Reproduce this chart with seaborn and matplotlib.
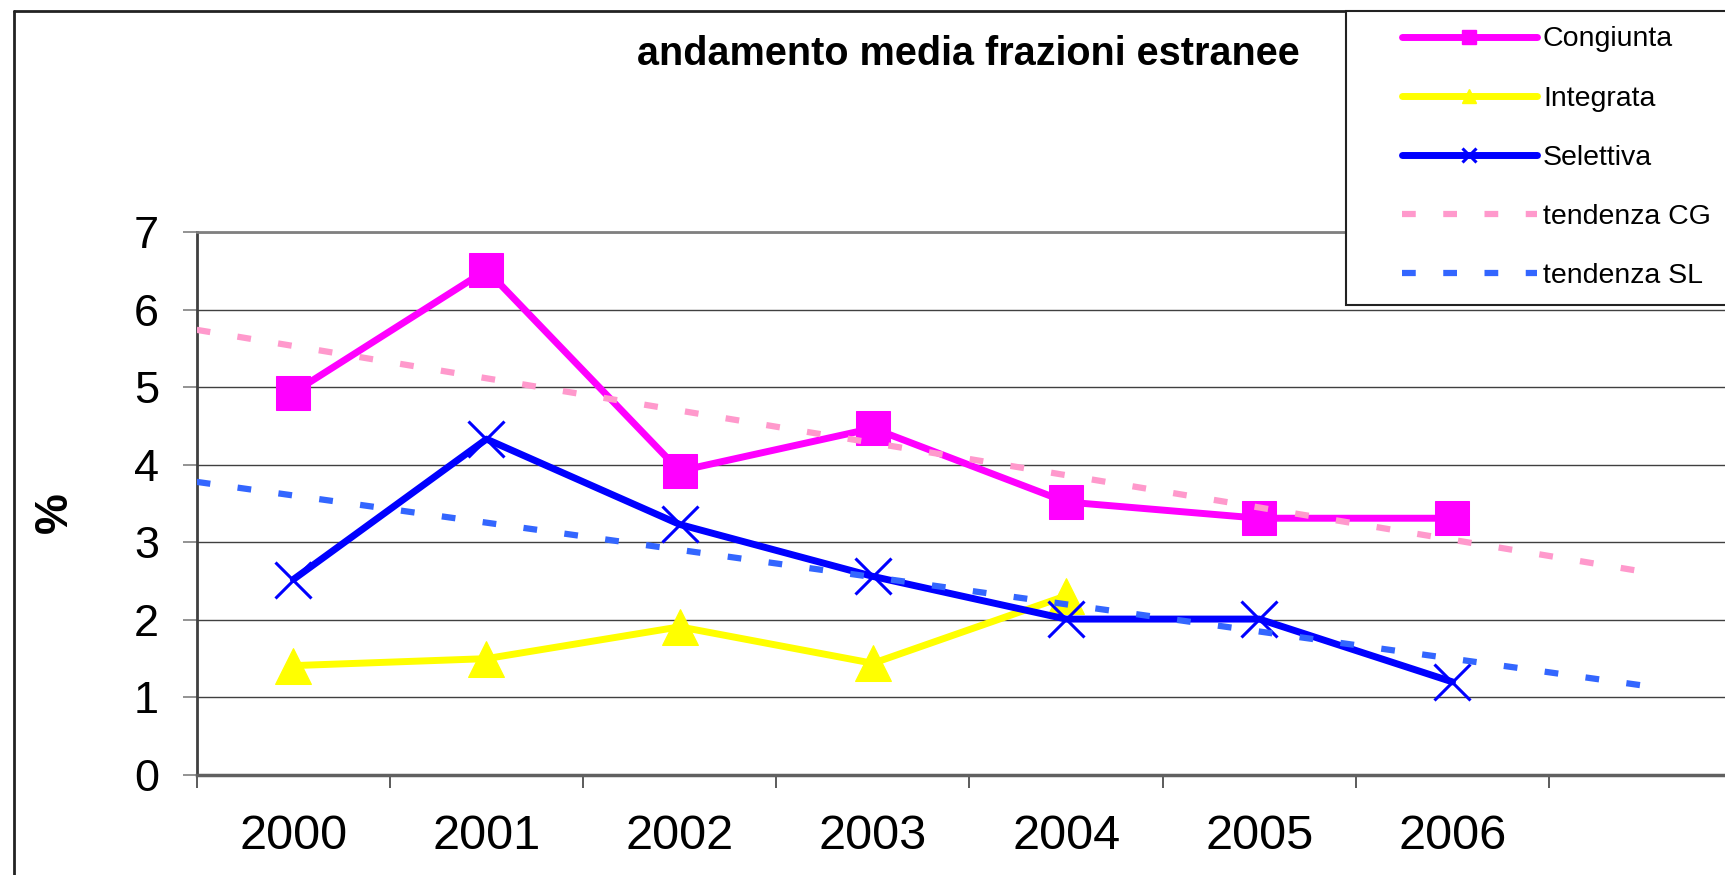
import numpy as np
import pandas as pd
import matplotlib
matplotlib.use("Agg")
import matplotlib.pyplot as plt
import seaborn as sns
from matplotlib.lines import Line2D
from matplotlib.patches import Rectangle

# ---- data ----
years = ['2000', '2001', '2002', '2003', '2004', '2005', '2006']
congiunta = [4.93, 6.51, 3.92, 4.47, 3.52, 3.31, 3.31]
integrata = [1.41, 1.50, 1.91, 1.44, 2.31]
selettiva = [2.52, 4.33, 3.23, 2.56, 2.01, 2.01, 1.20]
y_ticks = [0, 1, 2, 3, 4, 5, 6, 7]
title = 'andamento media frazioni estranee'
legend_labels = ['Congiunta', 'Integrata', 'Selettiva', 'tendenza CG', 'tendenza SL']

sns.set_style('white')
plt.rcParams['font.family'] = ['Liberation Sans', 'DejaVu Sans']
plt.rcParams['text.color'] = 'black'
plt.rcParams['axes.labelcolor'] = 'black'
plt.rcParams['xtick.color'] = 'black'
plt.rcParams['ytick.color'] = 'black'

W, H = 1725, 875
fig = plt.figure(figsize=(W / 100, H / 100), dpi=100)
ax = fig.add_axes([196.7 / W, 100 / H, 1545.6 / W, 543 / H])

pos = np.arange(len(years))
df_c = pd.DataFrame({'x': pos, 'y': congiunta})
df_i = pd.DataFrame({'x': pos[:len(integrata)], 'y': integrata})
df_s = pd.DataFrame({'x': pos, 'y': selettiva})

C_MAG, C_YEL, C_BLU = '#FF00FF', '#FFFF00', '#0000FF'
C_TCG, C_TSL = '#FF99CC', '#3366FF'
LW = 5.0
TLW = 4.5

sns.lineplot(data=df_c, x='x', y='y', ax=ax, color=C_MAG, lw=LW, marker='s',
             ms=24.5, mec=C_MAG, mfc=C_MAG, zorder=2)
sns.lineplot(data=df_i, x='x', y='y', ax=ax, color=C_YEL, lw=LW, marker='^',
             ms=26.5, mec=C_YEL, mfc=C_YEL, zorder=2.1)
sns.lineplot(data=df_s, x='x', y='y', ax=ax, color=C_BLU, lw=LW, marker='x',
             ms=26.5, mew=2.2, mec=C_BLU, zorder=2.2)

# linear trend lines (as in the original spreadsheet), from -0.5 to +1 period
tx = np.array([-0.5, 7.0])
for vals, col in [(congiunta, C_TCG), (selettiva, C_TSL)]:
    k, b = np.polyfit(pos, vals, 1)
    df_t = pd.DataFrame({'x': tx, 'y': k * tx + b})
    sns.lineplot(data=df_t, x='x', y='y', ax=ax, color=col, lw=TLW,
                 linestyle=(0, (2.2, 4.4)), zorder=3)

ax.set_xlim(-0.5, 7.5)
ax.set_ylim(0, 7)
ax.set_xlabel('')
ax.set_xticks(np.arange(-0.5, 8.0, 1.0))
ax.set_xticklabels([])
ax.set_xticks(pos, minor=True)
ax.set_xticklabels(years, minor=True)
ax.tick_params(axis='x', which='major', direction='out', length=9.4, width=1.2,
               color='#404040', bottom=True)
ax.tick_params(axis='x', which='minor', length=0, pad=28, labelsize=35, bottom=True,
               labelcolor='black')
ax.set_yticks(y_ticks)
ax.tick_params(axis='y', direction='out', length=10, width=1.2, color='#808080',
               pad=17, labelsize=32.5, left=True, labelcolor='black')

ax.set_axisbelow(True)
ax.yaxis.grid(True, color='#404040', lw=1.0)
ax.xaxis.grid(False)

ax.spines['left'].set_color('#404040')
ax.spines['left'].set_linewidth(2)
ax.spines['bottom'].set_color('#606060')
ax.spines['bottom'].set_linewidth(2.5)
ax.spines['top'].set_color('#808080')
ax.spines['top'].set_linewidth(2)
ax.spines['right'].set_visible(False)

ax.set_ylabel('%', fontsize=33, fontweight='bold', color='black')
ax.yaxis.label.set_va('center')
ax.yaxis.set_label_coords((55 - 196.7) / 1545.6, (875 - 512.5 - 100) / 543)

fig.text(968.5 / W, 1 - 65 / H, title, ha='center', va='baseline',
         fontsize=28.5, fontweight='bold', color='black')

# chart-area border (top and left)
fig.add_artist(Line2D([14 / W, 14 / W], [0, 1 - 11 / H], color='#222222', lw=2,
                      transform=fig.transFigure))
fig.add_artist(Line2D([14 / W, 1], [1 - 11 / H, 1 - 11 / H], color='#222222', lw=2,
                      transform=fig.transFigure))

# legend box
fig.add_artist(Rectangle((1346 / W, 1 - 305 / H), (1745 - 1346) / W, (305 - 11) / H,
                         transform=fig.transFigure, facecolor='white',
                         edgecolor='#222222', lw=1.5, zorder=4))

handles = [
    Line2D([], [], color=C_MAG, lw=LW, marker='s', ms=9.5, mec=C_MAG, solid_capstyle='round'),
    Line2D([], [], color=C_YEL, lw=LW, marker='^', ms=10, mec=C_YEL, solid_capstyle='round'),
    Line2D([], [], color=C_BLU, lw=LW, marker='x', ms=10, mew=2.2, mec=C_BLU, solid_capstyle='round'),
    Line2D([], [], color=C_TCG, lw=TLW, linestyle=(0, (2.2, 4.4))),
    Line2D([], [], color=C_TSL, lw=TLW, linestyle=(0, (2.2, 4.4))),
]
leg = fig.legend(handles, legend_labels, loc='upper left',
                 bbox_to_anchor=(1402 / W, 1 - 26.5 / H), frameon=False, fontsize=20.5,
                 handlelength=4.74, handletextpad=0.21, labelspacing=1.16,
                 borderpad=0, borderaxespad=0)
for t in leg.get_texts():
    t.set_color('black')
leg.set_zorder(5)

fig.savefig('out.png', dpi=100)
